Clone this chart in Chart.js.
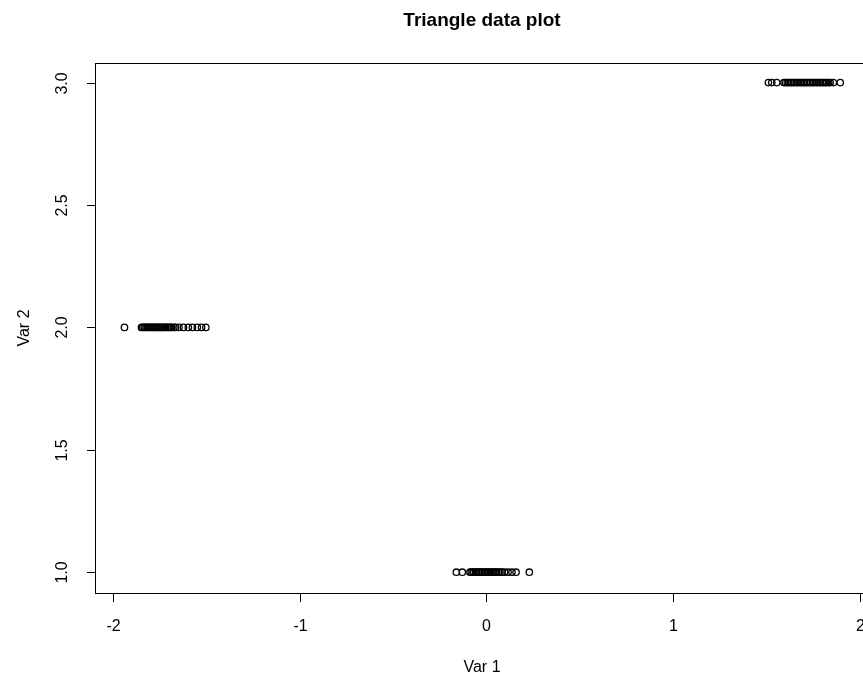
<!DOCTYPE html>
<html>
<head>
<meta charset="utf-8">
<script src="https://cdn.jsdelivr.net/npm/chart.js@4.4.1/dist/chart.umd.min.js"></script>
<style>
  html, body { margin: 0; padding: 0; background: #fff; overflow: hidden; }
  #wrap { width: 900px; height: 679px; overflow: hidden; }
</style>
</head>
<body>
<div id="wrap"><canvas id="c" width="900" height="679"></canvas></div>
<script>
// ---- data ----
const chartTitle = 'Triangle data plot';
const xAxisTitle = 'Var 1';
const yAxisTitle = 'Var 2';
const xTicks = [-2, -1, 0, 1, 2];
const xTickLabels = ['-2', '-1', '0', '1', '2'];
const yTicks = [1.0, 1.5, 2.0, 2.5, 3.0];
const yTickLabels = ['1.0', '1.5', '2.0', '2.5', '3.0'];

// cluster at Var 2 = 2
const groupAY = 2;
const groupAX = [-1.939, -1.848, -1.841, -1.833, -1.828, -1.819, -1.813, -1.805, -1.800,
  -1.790, -1.786, -1.778, -1.772, -1.764, -1.759, -1.749, -1.745, -1.736, -1.730, -1.721,
  -1.717, -1.707, -1.701, -1.692, -1.687, -1.674, -1.665, -1.647, -1.623, -1.597, -1.575,
  -1.549, -1.526, -1.503];
// cluster at Var 2 = 1
const groupBY = 1;
const groupBX = [-0.161, -0.129, -0.088, -0.081, -0.072, -0.067, -0.057, -0.051, -0.042,
  -0.036, -0.027, -0.021, -0.011, -0.006, 0.004, 0.010, 0.020, 0.025, 0.035, 0.040,
  0.050, 0.056, 0.067, 0.073, 0.084, 0.097, 0.116, 0.137, 0.159, 0.230];
// cluster at Var 2 = 3
const groupCY = 3;
const groupCX = [1.511, 1.529, 1.556, 1.594, 1.602, 1.612, 1.619, 1.629, 1.636, 1.646,
  1.653, 1.663, 1.670, 1.680, 1.687, 1.697, 1.704, 1.714, 1.721, 1.731, 1.738, 1.748,
  1.755, 1.765, 1.772, 1.782, 1.789, 1.799, 1.806, 1.816, 1.823, 1.834, 1.842, 1.859,
  1.896];

const xMin = -2.097, xMax = 2.050;
const yMin = 0.915, yMax = 3.08;

const points = []
  .concat(groupAX.map(x => ({ x: x, y: groupAY })))
  .concat(groupBX.map(x => ({ x: x, y: groupBY })))
  .concat(groupCX.map(x => ({ x: x, y: groupCY })));

const FONT = '"Liberation Sans", Arial, Helvetica, sans-serif';

const rAxes = {
  id: 'rAxes',
  afterDraw(chart) {
    const ctx = chart.ctx;
    const a = chart.chartArea;
    const xs = chart.scales.x, ys = chart.scales.y;
    ctx.save();
    ctx.strokeStyle = '#000';
    ctx.fillStyle = '#000';
    ctx.lineWidth = 1;
    // box
    ctx.strokeRect(Math.round(a.left) + 0.5, Math.round(a.top) + 0.5,
      Math.round(a.right - a.left), Math.round(a.bottom - a.top));
    // x ticks
    ctx.font = '16px ' + FONT;
    ctx.textAlign = 'center';
    ctx.textBaseline = 'middle';
    xTicks.forEach((v, i) => {
      const px = Math.round(xs.getPixelForValue(v)) + 0.5;
      ctx.beginPath();
      ctx.moveTo(px, a.bottom);
      ctx.lineTo(px, a.bottom + 9);
      ctx.stroke();
      ctx.fillText(xTickLabels[i], px, a.bottom + 34);
    });
    // y ticks
    yTicks.forEach((v, i) => {
      const py = Math.round(ys.getPixelForValue(v)) + 0.5;
      ctx.beginPath();
      ctx.moveTo(a.left - 8, py);
      ctx.lineTo(a.left, py);
      ctx.stroke();
      ctx.save();
      ctx.translate(a.left - 32, py);
      ctx.rotate(-Math.PI / 2);
      ctx.fillText(yTickLabels[i], 0, 0);
      ctx.restore();
    });
    const cx = (a.left + a.right) / 2;
    const cy = (a.top + a.bottom) / 2;
    // axis titles
    ctx.fillText(xAxisTitle, cx, 668);
    ctx.save();
    ctx.translate(25, cy);
    ctx.rotate(-Math.PI / 2);
    ctx.fillText(yAxisTitle, 0, 0);
    ctx.restore();
    // main title
    ctx.font = 'bold 19px ' + FONT;
    ctx.fillText(chartTitle, cx, 21);
    ctx.restore();
  }
};

new Chart(document.getElementById('c'), {
  type: 'scatter',
  data: {
    datasets: [{
      data: points,
      pointStyle: 'circle',
      pointRadius: 3.2,
      pointHoverRadius: 3.2,
      borderWidth: 1.3,
      borderColor: '#000',
      backgroundColor: 'rgba(0,0,0,0)'
    }]
  },
  options: {
    responsive: false,
    animation: false,
    devicePixelRatio: 1,
    layout: { padding: { left: 95, top: 63, right: 31, bottom: 86 } },
    plugins: { legend: { display: false }, title: { display: false }, tooltip: { enabled: false } },
    scales: {
      x: { type: 'linear', min: xMin, max: xMax, display: false },
      y: { type: 'linear', min: yMin, max: yMax, display: false }
    }
  },
  plugins: [rAxes]
});
</script>
</body>
</html>
